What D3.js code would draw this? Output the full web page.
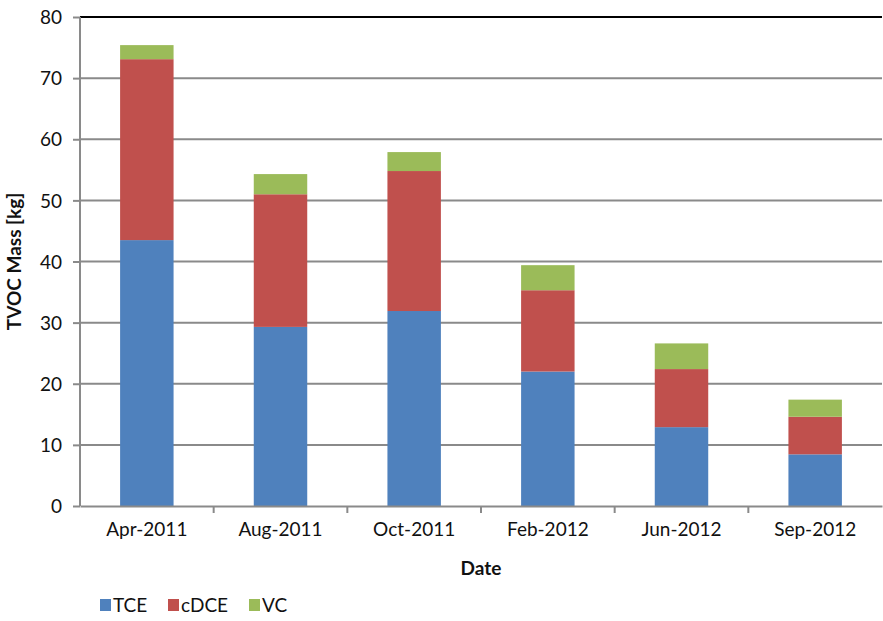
<!DOCTYPE html>
<html>
<head>
<meta charset="utf-8">
<script src="https://cdn.jsdelivr.net/npm/d3@7"></script>
<style>
  body { margin: 0; background: #fff; }
  text { font-family: Lato, "Open Sans", sans-serif; fill: #111; }
</style>
</head>
<body>
<div id="my_dataviz"></div>
<script>
// data (kg)
const dates = ["Apr-2011", "Aug-2011", "Oct-2011", "Feb-2012", "Jun-2012", "Sep-2012"]
const tce = [43.5, 29.3, 31.9, 22.0, 12.9, 8.45]
const cdce = [29.6, 21.7, 22.9, 13.3, 9.5, 6.15]
const vc = [2.3, 3.3, 3.1, 4.1, 4.2, 2.8]
const seriesNames = ["TCE", "cDCE", "VC"]
const yTicks = [0, 10, 20, 30, 40, 50, 60, 70, 80]

var margin = { top: 17, right: 1, bottom: 115, left: 80 },
    width = 883 - margin.left - margin.right,
    height = 621 - margin.top - margin.bottom;

var svg = d3.select("#my_dataviz")
    .append("svg")
    .attr("width", 883)
    .attr("height", 621)
    .append("g")
    .attr("transform", "translate(" + margin.left + "," + margin.top + ")")

let rows = dates.map(function (d, i) {
    return { date: d, TCE: tce[i], cDCE: cdce[i], VC: vc[i] }
})

var x = d3.scaleBand()
    .domain(dates)
    .range([0, width])
    .paddingInner(0.6)
    .paddingOuter(0.3)

var xTick = d3.scaleBand().domain(dates).range([0, width])

var y = d3.scaleLinear()
    .domain([0, 80])
    .range([height, 0])

var color = d3.scaleOrdinal()
    .domain(seriesNames)
    .range(["#4F81BD", "#C0504D", "#9BBB59"])

// gridlines
svg.append("g")
    .selectAll("line")
    .data(yTicks.filter(function (t) { return t > 0 }))
    .enter()
    .append("line")
    .attr("x1", 0)
    .attr("x2", width)
    .attr("y1", function (d) { return y(d) })
    .attr("y2", function (d) { return y(d) })
    .style("stroke", function (d) { return d == 80 ? "#000" : "#8a8a8a" })
    .style("stroke-width", 2)

// stacked bars
var stack = d3.stack().keys(seriesNames)(rows)

svg.append("g")
    .selectAll("g")
    .data(stack)
    .enter()
    .append("g")
    .style("fill", function (d) { return color(d.key) })
    .selectAll("rect")
    .data(function (d) { return d })
    .enter()
    .append("rect")
    .attr("x", function (d) { return x(d.data.date) })
    .attr("y", function (d) { return y(d[1]) })
    .attr("height", function (d) { return y(d[0]) - y(d[1]) })
    .attr("width", x.bandwidth())

// Y axis
var yAxis = svg.append("g")
    .call(d3.axisLeft(y).tickValues(yTicks).tickSize(7).tickPadding(11))
yAxis.selectAll("path, line").style("stroke", "#8a8a8a").style("stroke-width", 2)
yAxis.select(".domain").attr("d", "M0," + height + "V0")
yAxis.selectAll("text").style("font-size", "19px").attr("dy", "0.35em")

// X axis
var xAxis = svg.append("g")
    .attr("transform", "translate(0," + height + ")")
    .call(d3.axisBottom(xTick).tickSize(0).tickPadding(17))
xAxis.select(".domain").style("stroke", "#8a8a8a").style("stroke-width", 2)
xAxis.selectAll("text").style("font-size", "19px")

// tick marks between categories
svg.append("g")
    .selectAll("line")
    .data(dates.slice(1))
    .enter()
    .append("line")
    .attr("x1", function (d) { return xTick(d) })
    .attr("x2", function (d) { return xTick(d) })
    .attr("y1", height)
    .attr("y2", height + 7)
    .style("stroke", "#8a8a8a")
    .style("stroke-width", 2)

// axis titles
svg.append("text")
    .attr("text-anchor", "middle")
    .attr("x", width / 2)
    .attr("y", height + 69)
    .style("font-size", "19px")
    .style("font-weight", "bold")
    .text("Date")

svg.append("text")
    .attr("text-anchor", "middle")
    .attr("transform", "rotate(-90)")
    .attr("y", -margin.left + 21)
    .attr("x", -(y(40)))
    .style("font-size", "19px")
    .style("font-weight", "bold")
    .text("TVOC Mass [kg]")

// legend
var legendX = [100, 168, 249]
var legend = svg.append("g")
    .attr("transform", "translate(" + (-margin.left) + "," + (-margin.top) + ")")
var items = legend.selectAll("g")
    .data(seriesNames)
    .enter()
    .append("g")
    .attr("transform", function (d, i) { return "translate(" + legendX[i] + ",599)" })
items.append("rect")
    .attr("width", 11)
    .attr("height", 12)
    .style("fill", function (d) { return color(d) })
items.append("text")
    .attr("x", 13)
    .attr("y", 12.5)
    .style("font-size", "19px")
    .text(function (d) { return d })
</script>
</body>
</html>
